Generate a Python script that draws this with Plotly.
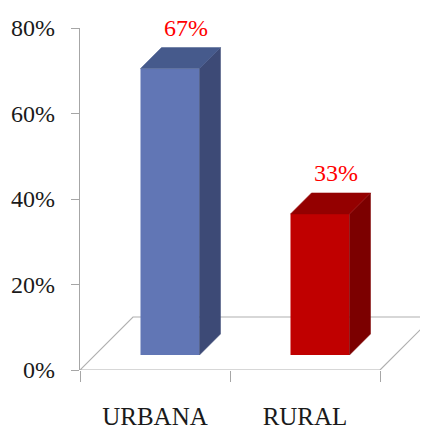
import plotly.graph_objects as go

# data
categories = ['URBANA', 'RURAL']
values = [67, 33]
value_labels = ['67%', '33%']
y_ticks = [0, 20, 40, 60, 80]
y_tick_text = ['0%', '20%', '40%', '60%', '80%']

# colours: front, side, top face of each column
front_colors = ['#6176B5', '#C00000']
side_colors = ['#3D4A76', '#7C0000']
top_colors = ['#465A8C', '#940000']

# pseudo-3d geometry (pixels converted into axis units)
px_x = 150.0          # pixels per category
px_y = 342 / 80.0     # pixels per percent
floor_depth = 53      # floor depth in px (45 degree)
bar_front = 15        # depth where the column front sits
bar_back = 36         # depth where the column back sits
bar_w = 59 / px_x
hw = bar_w / 2

serif = 'Liberation Serif, Times New Roman, Tinos, serif'


def ux(p):
    return p / px_x


def uy(p):
    return p / px_y


fig = go.Figure()

# front faces
fig.add_trace(go.Bar(
    x=list(range(len(values))), y=values,
    base=uy(bar_front), width=bar_w, offset=ux(bar_front) - hw,
    marker=dict(color=front_colors, line=dict(width=0)),
    hoverinfo='skip', showlegend=False))

# side + top faces
for i, v in enumerate(values):
    fx, bx = ux(bar_front), ux(bar_back)
    fy, by = uy(bar_front), uy(bar_back)
    fig.add_trace(go.Scatter(
        x=[i + hw + fx, i + hw + fx, i + hw + bx, i + hw + bx, i + hw + fx],
        y=[fy, fy + v, by + v, by, fy],
        mode='lines', fill='toself', fillcolor=side_colors[i],
        line=dict(color=side_colors[i], width=0.5),
        hoverinfo='skip', showlegend=False))
    fig.add_trace(go.Scatter(
        x=[i - hw + fx, i + hw + fx, i + hw + bx, i - hw + bx, i - hw + fx],
        y=[fy + v, fy + v, by + v, by + v, fy + v],
        mode='lines', fill='toself', fillcolor=top_colors[i],
        line=dict(color=top_colors[i], width=0.5),
        hoverinfo='skip', showlegend=False))

# value labels
fig.add_trace(go.Scatter(
    x=[i + ux(31) for i in range(len(values))],
    y=[v + uy(bar_back + 6) for v in values],
    mode='text', text=value_labels, textposition='top center',
    textfont=dict(family=serif, size=24, color='#FF0000'),
    cliponaxis=False, hoverinfo='skip', showlegend=False))

# floor outline
n = len(categories)
fdx, fdy = ux(floor_depth), uy(floor_depth)
fig.add_shape(
    type='path', xref='x', yref='y', layer='below',
    path=f'M -0.5,0 L {n - 0.5},0 L {n - 0.5 + fdx},{fdy} L {-0.5 + fdx},{fdy} Z',
    line=dict(color='#B0B0B0', width=1.2), fillcolor='white')

fig.update_xaxes(
    range=[-0.5, -0.5 + 348 / px_x],
    tickvals=list(range(n)), ticktext=categories, ticks='',
    minor=dict(tickvals=[i - 0.5 for i in range(n + 1)], ticks='outside',
               ticklen=11, tickcolor='#A6A6A6', tickwidth=1.2, showgrid=False),
    showline=False, showgrid=False, zeroline=False, automargin=False,
    ticklabelstandoff=29,
    tickfont=dict(family=serif, size=25, color='#1A1A1A'))
fig.update_yaxes(
    range=[0, 80], tickvals=y_ticks, ticktext=y_tick_text,
    ticks='outside', ticklen=8, tickcolor='#A6A6A6', tickwidth=1.2,
    showline=True, linecolor='#A6A6A6', linewidth=1.2, automargin=False,
    showgrid=False, zeroline=False, ticklabelstandoff=11,
    tickfont=dict(family=serif, size=24, color='#1A1A1A'))

# page body adds an 8px margin, so the figure is 8px smaller
fig.update_layout(
    width=420, height=422,
    margin=dict(l=72, r=0, t=20, b=60),
    plot_bgcolor='white', paper_bgcolor='white',
    showlegend=False)

fig.write_html('out.html')
